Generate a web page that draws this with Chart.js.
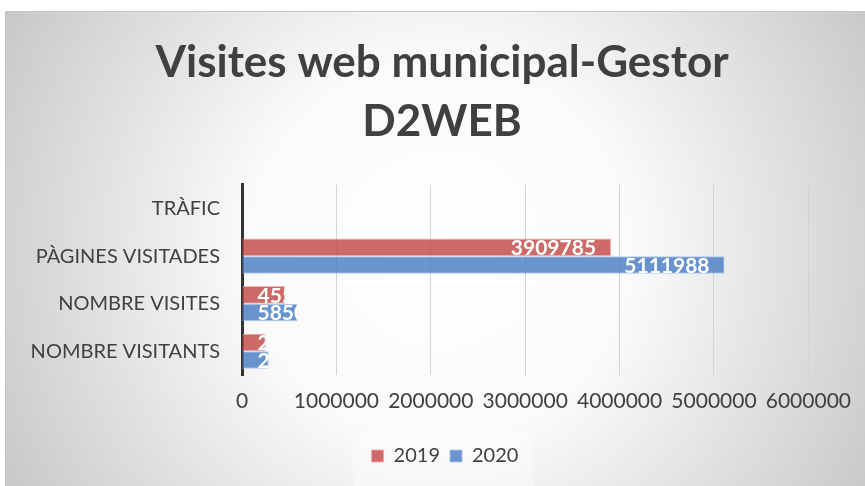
<!DOCTYPE html>
<html>
<head>
<meta charset="utf-8">
<script src="https://cdn.jsdelivr.net/npm/chart.js@4.4.1/dist/chart.umd.min.js"></script>
<style>
  html, body { margin: 0; padding: 0; background: #fff; }
  #wrap { width: 865px; height: 486px; position: relative; }
</style>
</head>
<body>
<div id="wrap"><canvas id="visitesChart" width="865" height="486"></canvas></div>
<script>
var categories = ['TRÀFIC', 'PÀGINES VISITADES', 'NOMBRE VISITES', 'NOMBRE VISITANTS'];
var values2019 = [null, 3909785, 455000, 250000];
var values2020 = [null, 5111988, 585000, 282000];
var tickValues = [0, 1000000, 2000000, 3000000, 4000000, 5000000, 6000000];

var fontName = 'Lato, "Open Sans", sans-serif';

// Excel style grey radial background with frame
var backgroundPlugin = {
  id: 'bg',
  beforeDraw: function(chart) {
    var ctx = chart.ctx;
    ctx.save();
    ctx.fillStyle = '#ffffff';
    ctx.fillRect(0, 0, chart.width, chart.height);
    var g = ctx.createRadialGradient(440, 250, 0, 440, 250, 560);
    g.addColorStop(0, '#ffffff');
    g.addColorStop(0.35, '#fafafa');
    g.addColorStop(1, '#bdbdbd');
    ctx.fillStyle = g;
    ctx.fillRect(5, 11, chart.width - 5, chart.height - 11);
    ctx.strokeStyle = '#c6c6c6';
    ctx.lineWidth = 1;
    ctx.strokeRect(5.5, 11.5, chart.width, chart.height);
    // faint box behind legend
    ctx.fillStyle = 'rgba(255,255,255,0.35)';
    ctx.fillRect(353, 434, 180, 52);
    ctx.restore();
  },
  // title and legend are centred on the whole frame, not on the plot
  afterLayout: function(chart) {
    chart.titleBlock.left += 35;
    chart.titleBlock.right += 35;
    chart.legend.left += 38;
    chart.legend.right += 38;
  }
};

// value labels inside bar end, clipped to bar like Excel
var labelPlugin = {
  id: 'barLabels',
  afterDatasetsDraw: function(chart) {
    var ctx = chart.ctx;
    ctx.save();
    ctx.font = 'bold 21px ' + fontName;
    ctx.fillStyle = '#ffffff';
    ctx.textBaseline = 'middle';
    chart.data.datasets.forEach(function(ds, i) {
      var meta = chart.getDatasetMeta(i);
      meta.data.forEach(function(bar, j) {
        var v = ds.data[j];
        if (v === null) return;
        var txt = String(v);
        var w = ctx.measureText(txt).width;
        var tx = Math.max(bar.base + 15, bar.x - 15 - w);
        ctx.save();
        ctx.beginPath();
        ctx.rect(bar.base, bar.y - bar.height / 2, bar.x - bar.base, bar.height);
        ctx.clip();
        ctx.fillText(txt, tx, bar.y + 1);
        ctx.restore();
      });
    });
    ctx.restore();
  }
};

var ctx = document.getElementById('visitesChart');

var chart = new Chart(ctx, {
  type: 'bar',
  data: {
    labels: categories,
    datasets: [
      {
        label: '2019',
        data: values2019,
        backgroundColor: 'rgba(196, 80, 77, 0.85)',
        borderColor: 'rgba(235, 170, 168, 0.9)',
        borderWidth: 1
      },
      {
        label: '2020',
        data: values2020,
        backgroundColor: 'rgba(79, 129, 196, 0.85)',
        borderColor: 'rgba(165, 195, 235, 0.9)',
        borderWidth: 1
      }
    ]
  },
  options: {
    indexAxis: 'y',
    responsive: false,
    animation: false,
    categoryPercentage: 0.74,
    barPercentage: 1.0,
    layout: { padding: { left: 5, right: 56, top: 11, bottom: 10 } },
    scales: {
      x: {
        min: 0,
        max: 6000000,
        afterBuildTicks: function(scale) {
          scale.ticks = tickValues.map(function(v) { return { value: v }; });
        },
        afterFit: function(scale) { scale.height = 61; },
        grid: { color: '#d4d4d4', lineWidth: 1, drawTicks: false },
        border: { display: false },
        ticks: {
          padding: 14,
          color: '#404040',
          font: { family: fontName, size: 21 },
          callback: function(v) { return String(v); }
        }
      },
      y: {
        afterFit: function(scale) { scale.width = 237; },
        grid: { display: false, drawTicks: false },
        border: { display: true, color: '#333333', width: 3 },
        ticks: {
          padding: 22,
          color: '#404040',
          font: { family: fontName, size: 20 }
        }
      }
    },
    plugins: {
      title: {
        display: true,
        text: ['Visites web municipal-Gestor', 'D2WEB'],
        color: '#404040',
        font: { family: fontName, size: 44, weight: 'bold', lineHeight: 1.35 },
        padding: { top: 22, bottom: 33 }
      },
      legend: {
        position: 'bottom',
        labels: {
          color: '#404040',
          font: { family: fontName, size: 20 },
          boxWidth: 12,
          boxHeight: 12,
          padding: 10
        }
      },
      tooltip: { enabled: false }
    }
  },
  plugins: [backgroundPlugin, labelPlugin]
});
</script>
</body>
</html>
